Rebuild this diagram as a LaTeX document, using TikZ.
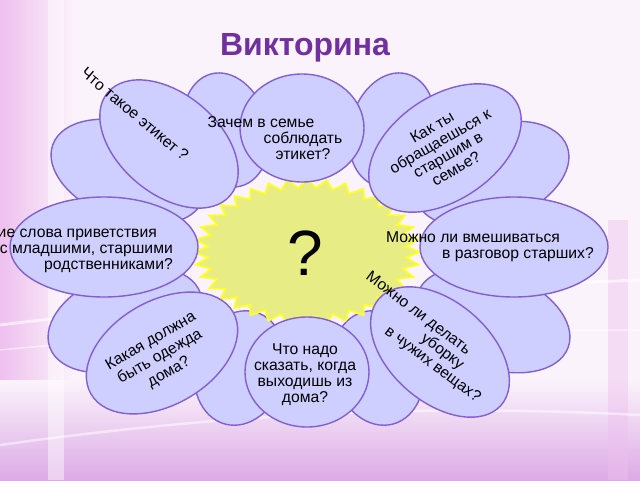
\documentclass[tikz,border=0pt]{standalone}
\usepackage{fontspec}
\setmainfont{Liberation Sans}
\usetikzlibrary{shapes.geometric}
\definecolor{petalfill}{RGB}{206,206,255}
\definecolor{petalline}{RGB}{130,95,210}
\definecolor{starfill}{RGB}{232,236,132}
\definecolor{starline}{RGB}{255,255,40}
\definecolor{titlecol}{RGB}{112,48,160}
\definecolor{bgbase}{RGB}{251,243,251}
\definecolor{bgpink}{RGB}{238,192,238}
\definecolor{bgpurple}{RGB}{220,170,230}
\begin{document}
\begin{tikzpicture}[x=1pt,y=-1pt,
  petal/.style={ellipse, draw=petalline, fill=petalfill, line width=1.4pt, inner sep=0pt},
  qtext/.style={font=\fontsize{15.7}{16}\selectfont, align=center, inner sep=0pt, text=black},
]
\useasboundingbox (0,0) rectangle (640,480);
% background
\fill[bgbase] (0,0) rectangle (640,480);
\shade[left color=bgpink, right color=bgbase] (0,0) rectangle (75,480);
\shade[top color=bgbase, bottom color=bgpurple] (0,380) rectangle (640,480);
\fill[white, opacity=0.45] (48,0) rectangle (64,480);
\fill[bgpink, opacity=0.45] (608,220) rectangle (628,480);
\draw[white, line width=3pt, opacity=0.6] (0,325) .. controls (200,300) and (400,290) .. (640,280);
\draw[white, line width=1.5pt, opacity=0.5] (0,350) .. controls (200,330) and (400,330) .. (640,330);
\draw[white, line width=2.5pt, opacity=0.5] (0,445) .. controls (250,410) and (450,405) .. (640,415);
% background petals
\node[petal, minimum width=160pt, minimum height=96pt, rotate=-20] (p1) at (128,172) {};
\node[petal, minimum width=84pt, minimum height=116pt, rotate=15] (p2) at (226,130) {};
\node[petal, minimum width=84pt, minimum height=116pt, rotate=-15] (p3) at (392,130) {};
\node[petal, minimum width=160pt, minimum height=96pt, rotate=20] (p4) at (492,174) {};
\node[petal, minimum width=160pt, minimum height=96pt, rotate=-20] (p5) at (493,320) {};
\node[petal, minimum width=90pt, minimum height=116pt, rotate=15] (p6) at (378,368) {};
\node[petal, minimum width=90pt, minimum height=116pt, rotate=-15] (p7) at (240,368) {};
\node[petal, minimum width=160pt, minimum height=96pt, rotate=20] (p8) at (125,320) {};
% starburst centre
\coordinate (c) at (307,252);
\filldraw[fill=starfill, draw=starline, line width=1.8pt]
  plot[samples=73, domain=0:360, variable=\t]
  ({307+113*(1-0.12*mod(round(\t/5),2))*cos(\t)}, {252+73*(1-0.12*mod(round(\t/5),2))*sin(\t)}) -- cycle;
\node[font=\fontsize{64}{64}\selectfont, inner sep=0pt] (qm) at (305,253) {?};
% question ellipses
\node[petal, minimum width=160pt, minimum height=100pt, rotate=-40] (q1) at (169,144) {};
\node[petal, minimum width=124pt, minimum height=108pt] (q2) at (302,128) {};
\node[petal, minimum width=170pt, minimum height=104pt, rotate=34] (q3) at (445,148) {};
\node[petal, minimum width=188pt, minimum height=100pt] (q4) at (514,247) {};
\node[petal, minimum width=162pt, minimum height=100pt, rotate=-41] (q5) at (440,352) {};
\node[petal, minimum width=124pt, minimum height=110pt] (q6) at (307,372) {};
\node[petal, minimum width=164pt, minimum height=104pt, rotate=30] (q7) at (162,353) {};
\node[petal, minimum width=188pt, minimum height=100pt] (q8) at (104,247) {};
% texts
\node[qtext, rotate=-40] (t1) at (135,114) {Что такое этикет ?};
\node[qtext] (t2) at (303,138) {Зачем в семье\hspace*{84pt}\\соблюдать\\этикет?};
\node[qtext, rotate=30] (t3) at (444,148) {Как ты\\обращаешься к\\старшим в\\семье?};
\node[qtext, align=left, anchor=west] (t4) at (386,247) {Можно ли вмешиваться\\\hspace*{56pt}в разговор старших?};
\node[qtext, rotate=-37] (t5) at (442,352) {Можно ли делать\hspace*{84pt}\\уборку\\в чужих вещах?};
\node[qtext] (t6) at (305,375) {Что надо\\сказать, когда\\выходишь из\\дома?};
\node[qtext, font=\fontsize{15.7}{18}\selectfont, rotate=30] (t7) at (160,357) {Какая должна\\быть одежда\\дома?};
\node[qtext, align=right, anchor=east] (t8) at (173,250) {Какие слова приветствия\hspace*{16pt}\\с младшими, старшими\hspace*{28pt}\\родственниками?};
% title
\node[font=\fontsize{32}{32}\selectfont\bfseries, text=titlecol, anchor=base, inner sep=0pt] (title) at (305,55) {Викторина};
\end{tikzpicture}
\end{document}
